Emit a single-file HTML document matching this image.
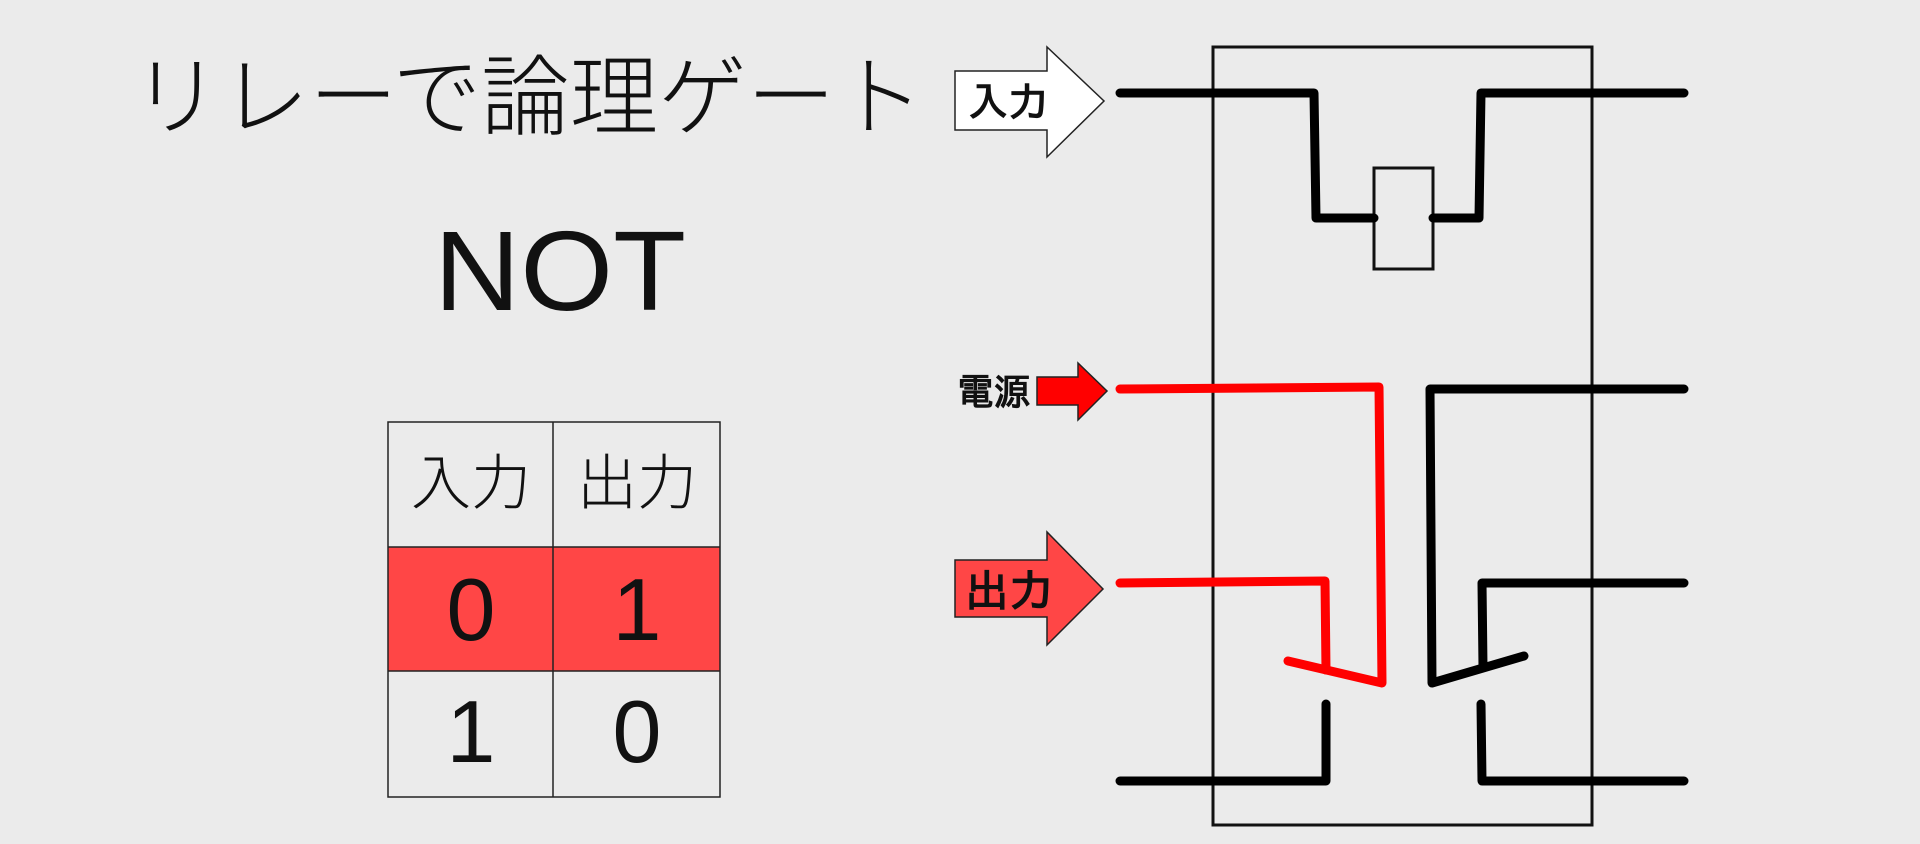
<!DOCTYPE html>
<html><head><meta charset="utf-8"><style>
html,body{margin:0;padding:0;background:#ebebeb;}
svg{display:block}
text{font-family:"Noto Sans CJK JP","Liberation Sans",sans-serif;}
.lat{font-family:"Liberation Sans","Noto Sans CJK JP",sans-serif;}
.lbl{font-family:"IPAGothic","WenQuanYi Zen Hei","Noto Sans CJK JP",sans-serif;font-weight:bold;}
</style></head><body>
<svg width="1920" height="844" viewBox="0 0 1920 844" xmlns="http://www.w3.org/2000/svg">
<rect width="1920" height="844" fill="#ebebeb"/>
<text x="132" y="128" font-size="88" font-weight="300" fill="#111" textLength="792" lengthAdjust="spacingAndGlyphs">リレーで論理ゲート</text>
<text class="lat" x="434" y="310" font-size="113" font-weight="300" fill="#111" textLength="252" lengthAdjust="spacingAndGlyphs">NOT</text>
<rect x="388" y="547" width="332" height="124" fill="#ff4646"/>
<g stroke="#222" stroke-width="1.5" fill="none">
<rect x="388" y="422" width="332" height="375"/>
<line x1="553" y1="422" x2="553" y2="797"/>
<line x1="388" y1="547" x2="720" y2="547"/>
<line x1="388" y1="671" x2="720" y2="671"/>
</g>
<g font-size="60" font-weight="300" fill="#111" text-anchor="middle">
<text x="471" y="504">入力</text>
<text x="637" y="504">出力</text>
</g>
<g font-size="88" font-weight="300" fill="#111" text-anchor="middle">
<text class="lat" x="471" y="640">0</text>
<text class="lat" x="637" y="640">1</text>
<text class="lat" x="471" y="762">1</text>
<text class="lat" x="637" y="762">0</text>
</g>
<rect x="1213" y="47" width="379" height="778" fill="none" stroke="#111" stroke-width="3"/>
<rect x="1374" y="168" width="59" height="101" fill="none" stroke="#111" stroke-width="3"/>
<g stroke="#000" stroke-width="9" fill="none" stroke-linecap="round" stroke-linejoin="round">
<polyline points="1120,93 1314,93 1316,218 1374,218"/>
<polyline points="1433,218 1479,218 1481,93 1684,93"/>
<polyline points="1684,389 1430,389 1432,683 1524,656"/>
<polyline points="1684,583 1482,583 1483,667"/>
<polyline points="1120,781 1326,781 1326,704"/>
<polyline points="1684,781 1482,781 1481,704"/>
</g>
<g stroke="#ff0000" stroke-width="9" fill="none" stroke-linecap="round" stroke-linejoin="round">
<polyline points="1120,389 1379,387 1382,683 1288,661"/>
<polyline points="1120,583 1325,581 1326,670"/>
</g>
<polygon points="955,71 1047,71 1047,47 1104,101 1047,157 1047,130 955,130" fill="#fff" stroke="#222" stroke-width="1.5"/>
<text class="lbl" x="968" y="116" font-size="40" fill="#111">入力</text>
<polygon points="1037,377 1078,377 1078,363 1107,391 1078,420 1078,405 1037,405" fill="#ff0000" stroke="#222" stroke-width="1.5"/>
<text class="lbl" x="957" y="405" font-size="37" fill="#111">電源</text>
<polygon points="955,560 1047,560 1047,532 1103,589 1047,645 1047,617 955,617" fill="#ff4646" stroke="#222" stroke-width="1.5"/>
<text class="lbl" x="965" y="606" font-size="44" fill="#111">出力</text>
</svg>
</body></html>
